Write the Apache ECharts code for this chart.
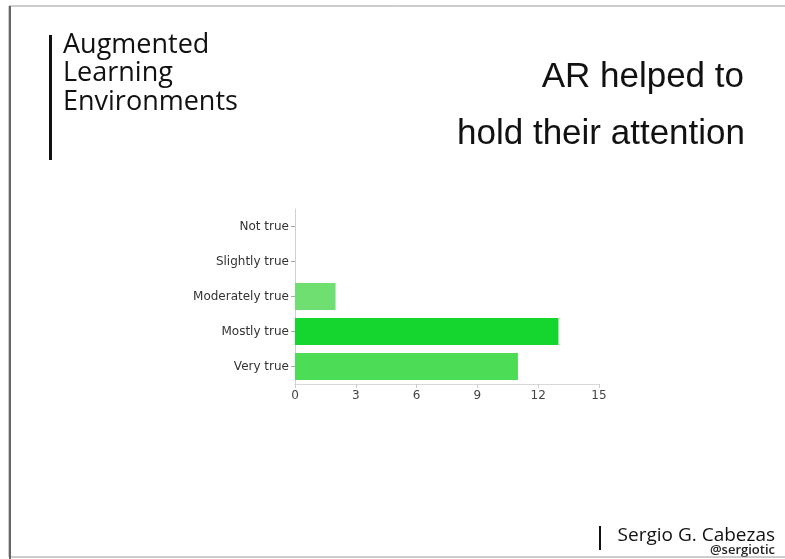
<!DOCTYPE html>
<html>
<head>
<meta charset="utf-8">
<script src="https://cdn.jsdelivr.net/npm/echarts@6/dist/echarts.min.js"></script>
<style>
html,body{margin:0;padding:0;background:#fff;}
#c{width:785px;height:559px;}
</style>
</head>
<body>
<div id="c"></div>
<script>
const categories = ['Not true', 'Slightly true', 'Moderately true', 'Mostly true', 'Very true'];
const counts = [0, 0, 2, 13, 11];
const barColors = ['#6fdf72', '#6fdf72', '#6fdf72', '#14d62e', '#4cdc55'];
const xTicks = [0, 3, 6, 9, 12, 15];
const titleLines = ['AR helped to', 'hold their attention'];
const headerText = 'Augmented\nLearning\nEnvironments';
const authorName = 'Sergio G. Cabezas';
const authorHandle = '@sergiotic';

const chart = echarts.init(document.getElementById('c'), null, {renderer: 'canvas'});
chart.setOption({
  backgroundColor: '#ffffff',
  animation: false,
  grid: {left: 295, right: 186, top: 209, bottom: 175, containLabel: false},
  xAxis: {
    type: 'value',
    min: xTicks[0],
    max: xTicks[xTicks.length - 1],
    interval: 3,
    axisLine: {show: true, lineStyle: {color: '#d8d8d8', width: 1}},
    axisTick: {show: true, length: 4, lineStyle: {color: '#cccccc'}},
    splitLine: {show: false},
    axisLabel: {color: '#444', fontSize: 12, fontFamily: '"DejaVu Sans", sans-serif', margin: 6}
  },
  yAxis: {
    type: 'category',
    data: categories,
    inverse: true,
    axisLine: {show: true, lineStyle: {color: '#d0d0d0', width: 1}},
    axisTick: {show: true, length: 4, alignWithLabel: true, lineStyle: {color: '#aaaaaa'}},
    axisLabel: {color: '#333', fontSize: 12, fontFamily: '"DejaVu Sans", sans-serif', margin: 6}
  },
  series: [{
    type: 'bar',
    barCategoryGap: '23%',
    data: counts.map((v, i) => ({value: v, itemStyle: {color: barColors[i]}}))
  }],
  graphic: [
    {type: 'rect', shape: {x: 9, y: 6, width: 790, height: 551}, style: {fill: 'none', stroke: '#9a9a9a', lineWidth: 1}, z: 1},
    {type: 'rect', shape: {x: 9, y: 6, width: 2, height: 553}, style: {fill: '#666666'}, z: 1},
    {type: 'rect', shape: {x: 49, y: 35, width: 3, height: 125}, style: {fill: '#111111'}},
    {type: 'text', left: 63, top: 31, style: {text: headerText, font: '27px "Open Sans", "Noto Sans", sans-serif', fill: '#111', lineHeight: 28.5}},
    {type: 'text', style: {text: titleLines[0], x: 744, y: 77, textAlign: 'right', textVerticalAlign: 'middle', font: '35px "Liberation Sans", Arial, sans-serif', fill: '#111'}},
    {type: 'text', style: {text: titleLines[1], x: 745, y: 134, textAlign: 'right', textVerticalAlign: 'middle', font: '35px "Liberation Sans", Arial, sans-serif', fill: '#111'}},
    {type: 'rect', shape: {x: 599, y: 526, width: 2, height: 24}, style: {fill: '#111'}},
    {type: 'text', style: {text: authorName, x: 775, y: 536, textAlign: 'right', textVerticalAlign: 'middle', font: '19px "Open Sans", "Noto Sans", sans-serif', fill: '#111'}},
    {type: 'text', style: {text: authorHandle, x: 775, y: 550, textAlign: 'right', textVerticalAlign: 'middle', font: '600 13px "Open Sans", "Noto Sans", sans-serif', fill: '#222'}}
  ]
});
</script>
</body>
</html>
